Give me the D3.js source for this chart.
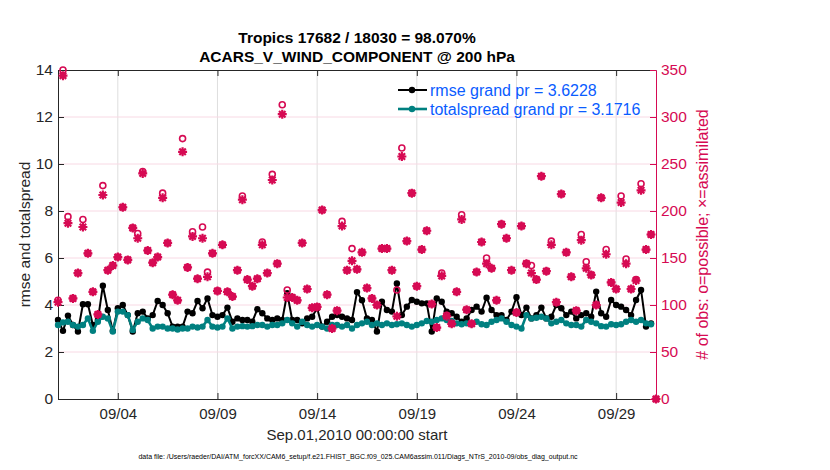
<!DOCTYPE html>
<html>
<head>
<meta charset="utf-8">
<script src="https://cdn.jsdelivr.net/npm/d3@7"></script>
<style>
	body { margin: 0; background: #fff; }
	text { font-family: "Liberation Sans", Arial, Helvetica, sans-serif; }
</style>
</head>
<body>
<div class="container"></div>
<script>
// 6-hourly bins starting Sep.01,2010 00:00
const binStart = Date.UTC(2010, 8, 1)
const binHours = 6

const rmse = [
	3.36, 2.9, 3.55, 3.15, 2.87, 4.03, 4.03, 3.15, 3.36, 4.82,
	3.79, 2.9, 3.86, 4.0, 3.57, 2.87, 3.65, 3.72, 3.43, 3.57,
	4.17, 4.0, 3.65, 3.08, 3.08, 3.08, 3.72, 3.65, 4.17, 3.86,
	4.28, 3.57, 3.5, 3.57, 3.89, 3.29, 3.43, 3.36, 3.36, 3.29,
	3.82, 3.65, 3.43, 3.36, 3.43, 3.36, 4.5, 3.36, 3.36, 3.22,
	3.43, 3.5, 3.86, 3.08, 3.29, 3.5, 3.57, 3.5, 3.43, 3.36,
	4.55, 4.2, 3.43, 3.36, 2.87, 4.14, 3.79, 3.72, 4.92, 3.57,
	3.93, 4.21, 4.14, 4.07, 4.07, 2.87, 4.28, 4.14, 3.72, 3.65,
	3.5, 3.29, 3.43, 3.79, 3.93, 3.72, 4.31, 3.79, 3.57, 3.57,
	3.36, 3.72, 4.33, 3.57, 3.89, 3.43, 3.57, 3.89, 3.43, 3.5,
	4.0, 3.86, 3.57, 3.72, 3.43, 3.57, 3.65, 3.5, 4.57, 3.65,
	3.5, 4.21, 4.0, 3.93, 3.79, 3.57, 4.21, 4.64, 3.08, 3.22,
	null
]

const totalspread = [
	3.15, 3.26, 3.29, 3.15, 3.08, 3.15, 3.43, 2.9, 3.29, 3.5,
	3.43, 2.87, 3.72, 3.72, 3.57, 2.94, 3.29, 3.43, 3.36, 3.0,
	3.08, 3.08, 3.0, 3.0, 2.96, 3.0, 3.0, 3.08, 3.04, 3.08,
	3.36, 3.08, 3.04, 3.08, 3.43, 3.0, 3.08, 3.1, 3.08, 3.1,
	3.15, 3.15, 3.08, 3.15, 3.15, 3.22, 3.36, 3.22, 3.08, 3.29,
	3.15, 3.08, 3.15, 3.08, 3.0, 3.15, 3.15, 3.08, 3.15, 3.0,
	3.15, 3.22, 3.29, 3.15, 3.22, 3.15, 3.22, 3.15, 3.18, 3.22,
	3.15, 3.08, 3.15, 3.22, 3.32, 3.29, 3.36, 3.43, 3.36, 3.32,
	3.22, 3.18, 3.22, 3.18, 3.29, 3.18, 3.15, 3.29, 3.36, 3.43,
	3.29, 3.15, 3.08, 3.0, 3.57, 3.43, 3.46, 3.5, 3.43, 3.22,
	3.29, 3.36, 3.22, 3.15, 3.15, 3.08, 3.36, 3.29, 3.22, 3.1,
	3.08, 3.18, 3.15, 3.18, 3.29, 3.36, 3.29, 3.36, 3.22, 3.18,
	null
]

const nPossible = [
	105, 350, 194, 107, 134, 191, 155, 114, 90, 227,
	137, 142, 151, 204, 148, 182, 176, 242, 158, 145,
	151, 219, 166, 111, 105, 277, 140, 178, 128, 183,
	135, 155, 115, 164, 114, 109, 137, 216, 127, 120,
	128, 167, 134, 239, 144, 313, 116, 108, 105, 166,
	117, 97, 98, 201, 111, 75, 94, 189, 137, 160,
	138, 156, 118, 107, 100, 160, 160, 137, 116, 267,
	168, 219, 120, 159, 179, 101, 76, 134, 89, 80,
	114, 196, 95, 80, 135, 167, 150, 139, 105, 186,
	171, 137, 92, 184, 144, 142, 127, 237, 136, 168,
	103, 218, 156, 130, 94, 175, 146, 132, 100, 214,
	159, 124, 117, 216, 149, 117, 127, 229, 159, 175,
	0
]

const nAssimilated = [
	103, 344, 187, 107, 134, 183, 155, 114, 90, 217,
	137, 142, 151, 204, 148, 182, 171, 240, 158, 145,
	151, 214, 166, 111, 105, 263, 140, 173, 128, 171,
	130, 155, 115, 164, 114, 109, 137, 212, 127, 120,
	128, 164, 134, 233, 144, 303, 108, 108, 105, 166,
	117, 97, 98, 201, 111, 75, 94, 184, 137, 147,
	138, 156, 118, 107, 100, 160, 160, 137, 88, 258,
	168, 219, 120, 159, 179, 101, 76, 131, 88, 80,
	114, 191, 95, 80, 135, 167, 144, 139, 105, 186,
	171, 137, 92, 184, 144, 134, 127, 237, 136, 164,
	103, 218, 156, 130, 94, 169, 139, 132, 100, 214,
	154, 124, 117, 209, 144, 117, 126, 222, 159, 175,
	0
]

const leftTicks = [0, 2, 4, 6, 8, 10, 12, 14]
const rightTicks = [0, 50, 100, 150, 200, 250, 300, 350]
const dateTicks = ['2010-09-04', '2010-09-09', '2010-09-14', '2010-09-19', '2010-09-24', '2010-09-29']

const titleLines = ['Tropics 17682 / 18030 = 98.070%', 'ACARS_V_WIND_COMPONENT @ 200 hPa']
const legendLabels = ['rmse grand pr = 3.6228', 'totalspread grand pr = 3.1716']
const xLabel = 'Sep.01,2010 00:00:00 start'
const yLabel = 'rmse and totalspread'
const y2Label = '# of obs: o=possible; \u00d7=assimilated'
const fileLabel = 'data file: /Users/raeder/DAI/ATM_forcXX/CAM6_setup/f.e21.FHIST_BGC.f09_025.CAM6assim.011/Diags_NTrS_2010-09/obs_diag_output.nc'

const pink = '#d60a53'
const teal = '#008080'
const blue = '#0a5cff'

const plotL = 58, plotR = 656, plotT = 70, plotB = 399

const times = nPossible.map((d, i) => new Date(binStart + i * binHours * 3600e3))

const x = d3.scaleUtc()
	.domain([times[0], times[times.length - 1]])
	.range([plotL, plotR])
const yL = d3.scaleLinear().domain([0, 14]).range([plotB, plotT])
const yR = d3.scaleLinear().domain([0, 350]).range([plotB, plotT])

let svg = d3.select('.container')
	.append('svg')
	.attr('width', 830)
	.attr('height', 470)

svg.append('rect').attr('width', 830).attr('height', 470).attr('fill', '#fff')

let tickDates = dateTicks.map(d => new Date(d + 'T00:00:00Z'))

// grid
svg.append('g').selectAll('line')
	.data(tickDates)
	.join('line')
	.attr('x1', d => x(d)).attr('x2', d => x(d))
	.attr('y1', plotT).attr('y2', plotB)
	.attr('stroke', '#dedede').attr('stroke-width', 1)

svg.append('g').selectAll('line')
	.data(rightTicks.slice(1, -1))
	.join('line')
	.attr('x1', plotL).attr('x2', plotR)
	.attr('y1', d => yR(d)).attr('y2', d => yR(d))
	.attr('stroke', '#f8d9e4').attr('stroke-width', 1)

// axes
function styleAxis(g, color, size) {
	g.selectAll('path.domain').attr('stroke', color).attr('stroke-width', 1)
	g.selectAll('.tick line').attr('stroke', color)
	g.selectAll('.tick text')
		.attr('fill', color)
		.style('font-size', size + 'px')
		.style('font-family', '"Liberation Sans", Arial, sans-serif')
}

let axB = svg.append('g')
	.attr('transform', `translate(0,${plotB})`)
	.call(d3.axisBottom(x).tickValues(tickDates).tickFormat(d3.utcFormat('%m/%d'))
		.tickSizeInner(-6).tickSizeOuter(0).tickPadding(9))
styleAxis(axB, '#262626', 15)

let axT = svg.append('g')
	.attr('transform', `translate(0,${plotT})`)
	.call(d3.axisTop(x).tickValues(tickDates).tickFormat('')
		.tickSizeInner(-6).tickSizeOuter(0))
styleAxis(axT, '#262626', 15)

let axL = svg.append('g')
	.attr('transform', `translate(${plotL},0)`)
	.call(d3.axisLeft(yL).tickValues(leftTicks).tickFormat(d3.format('d'))
		.tickSizeInner(-6).tickSizeOuter(0).tickPadding(5))
styleAxis(axL, '#262626', 15.5)

let axR = svg.append('g')
	.attr('transform', `translate(${plotR},0)`)
	.call(d3.axisRight(yR).tickValues(rightTicks).tickFormat(d3.format('d'))
		.tickSizeInner(-6).tickSizeOuter(0).tickPadding(5))
styleAxis(axR, pink, 15.5)

// lines
let line = d3.line()
	.defined(d => d != null)
	.x((d, i) => x(times[i]))
	.y(d => yL(d))

function drawSeries(values, color, width) {
	svg.append('path')
		.datum(values)
		.attr('d', line)
		.attr('fill', 'none')
		.attr('stroke', color)
		.attr('stroke-width', width)
		.attr('stroke-linejoin', 'round')
	svg.append('g').selectAll('circle')
		.data(values.map((v, i) => [v, i]).filter(d => d[0] != null))
		.join('circle')
		.attr('cx', d => x(times[d[1]]))
		.attr('cy', d => yL(d[0]))
		.attr('r', 3.2)
		.attr('fill', color)
}

drawSeries(rmse, '#000', 2)
drawSeries(totalspread, teal, 2.6)

// obs counts
let star = s => {
	let k = s * 0.72
	return `M${-s},0H${s}M0,${-s}V${s}M${-k},${-k}L${k},${k}M${-k},${k}L${k},${-k}`
}

svg.append('g').selectAll('circle')
	.data(nPossible)
	.join('circle')
	.attr('cx', (d, i) => x(times[i]))
	.attr('cy', d => yR(d))
	.attr('r', 3.0)
	.attr('fill', 'none')
	.attr('stroke', pink)
	.attr('stroke-width', 1.6)

svg.append('g').selectAll('path')
	.data(nAssimilated)
	.join('path')
	.attr('transform', (d, i) => `translate(${x(times[i])},${yR(d)})`)
	.attr('d', star(4.5))
	.attr('fill', 'none')
	.attr('stroke', pink)
	.attr('stroke-width', 2.2)

// legend
let legend = svg.append('g')
const legendColors = ['#000', teal]
legendLabels.forEach((t, i) => {
	let ly = 90 + i * 19
	legend.append('line')
		.attr('x1', 398).attr('x2', 427)
		.attr('y1', ly).attr('y2', ly)
		.attr('stroke', legendColors[i]).attr('stroke-width', i ? 2.6 : 2)
	legend.append('circle')
		.attr('cx', 412).attr('cy', ly).attr('r', 3.2)
		.attr('fill', legendColors[i])
	legend.append('text')
		.attr('x', 430).attr('y', ly + 5.5)
		.attr('fill', blue)
		.style('font-size', '16px')
		.text(t)
})

// titles and labels
titleLines.forEach((t, i) => {
	svg.append('text')
		.attr('x', (plotL + plotR) / 2).attr('y', 42.5 + i * 19.5)
		.attr('text-anchor', 'middle')
		.style('font-size', '15.5px').style('font-weight', 'bold')
		.text(t)
})

svg.append('text')
	.attr('x', (plotL + plotR) / 2).attr('y', 440)
	.attr('text-anchor', 'middle')
	.style('font-size', '15px')
	.attr('fill', '#262626')
	.text(xLabel)

svg.append('text')
	.attr('transform', `translate(30,${(plotT + plotB) / 2}) rotate(-90)`)
	.attr('text-anchor', 'middle')
	.style('font-size', '15.5px')
	.attr('fill', '#262626')
	.text(yLabel)

svg.append('text')
	.attr('transform', `translate(708,${(plotT + plotB) / 2}) rotate(-90)`)
	.attr('text-anchor', 'middle')
	.style('font-size', '16px')
	.attr('fill', pink)
	.text(y2Label)

svg.append('text')
	.attr('x', 358).attr('y', 459)
	.attr('text-anchor', 'middle')
	.style('font-size', '7px')
	.text(fileLabel)
</script>
</body>
</html>
